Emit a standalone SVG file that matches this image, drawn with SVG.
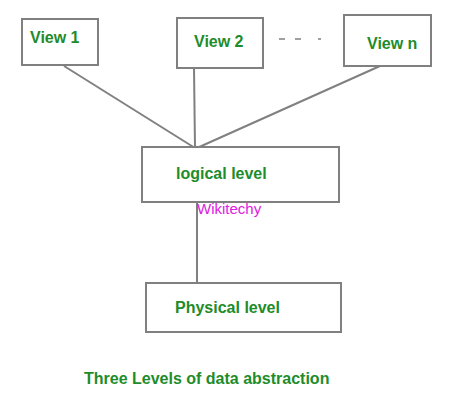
<svg xmlns="http://www.w3.org/2000/svg" width="474" height="402" viewBox="0 0 474 402">
<style>
.box{fill:#fff;stroke:#808080;stroke-width:2}
.lbl{font-family:"Liberation Sans",Arial,sans-serif;font-weight:bold;font-size:16px;fill:#1e8c2a}
.conn{stroke:#808080;stroke-width:2;fill:none}
.wm{font-family:"Liberation Sans",Arial,sans-serif;font-size:15px;fill:#e020e0}
</style>
<rect width="474" height="402" fill="#fff"/>
<g id="connectors">
<line class="conn" x1="64" y1="66" x2="195" y2="148"/>
<line class="conn" x1="194" y1="68" x2="195" y2="148"/>
<line class="conn" x1="380" y1="66" x2="197" y2="148"/>
<line class="conn" x1="197" y1="202" x2="197" y2="283"/>
</g>
<g id="view1">
<rect class="box" x="22" y="19" width="76" height="46"/>
<text class="lbl" x="30" y="43">View 1</text>
</g>
<g id="view2">
<rect class="box" x="177" y="18" width="86" height="50"/>
<text class="lbl" x="194" y="47">View 2</text>
</g>
<g id="dots">
<line stroke="#a0a0a0" stroke-width="2" x1="279" y1="39" x2="285" y2="39"/>
<line stroke="#a0a0a0" stroke-width="2" x1="295" y1="39" x2="301" y2="39"/>
<line stroke="#a0a0a0" stroke-width="2" x1="318" y1="39" x2="321" y2="39"/>
</g>
<g id="viewn">
<rect class="box" x="344" y="15" width="87" height="51"/>
<text class="lbl" x="367" y="49">View n</text>
</g>
<g id="logical">
<rect class="box" x="142" y="147" width="197" height="55"/>
<text class="lbl" x="176" y="179">logical level</text>
</g>
<text class="wm" x="197" y="214">Wikitechy</text>
<g id="physical">
<rect class="box" x="146" y="283" width="195" height="49"/>
<text class="lbl" x="175" y="313">Physical level</text>
</g>
<text class="lbl" x="84" y="384">Three Levels of data abstraction</text>
</svg>
